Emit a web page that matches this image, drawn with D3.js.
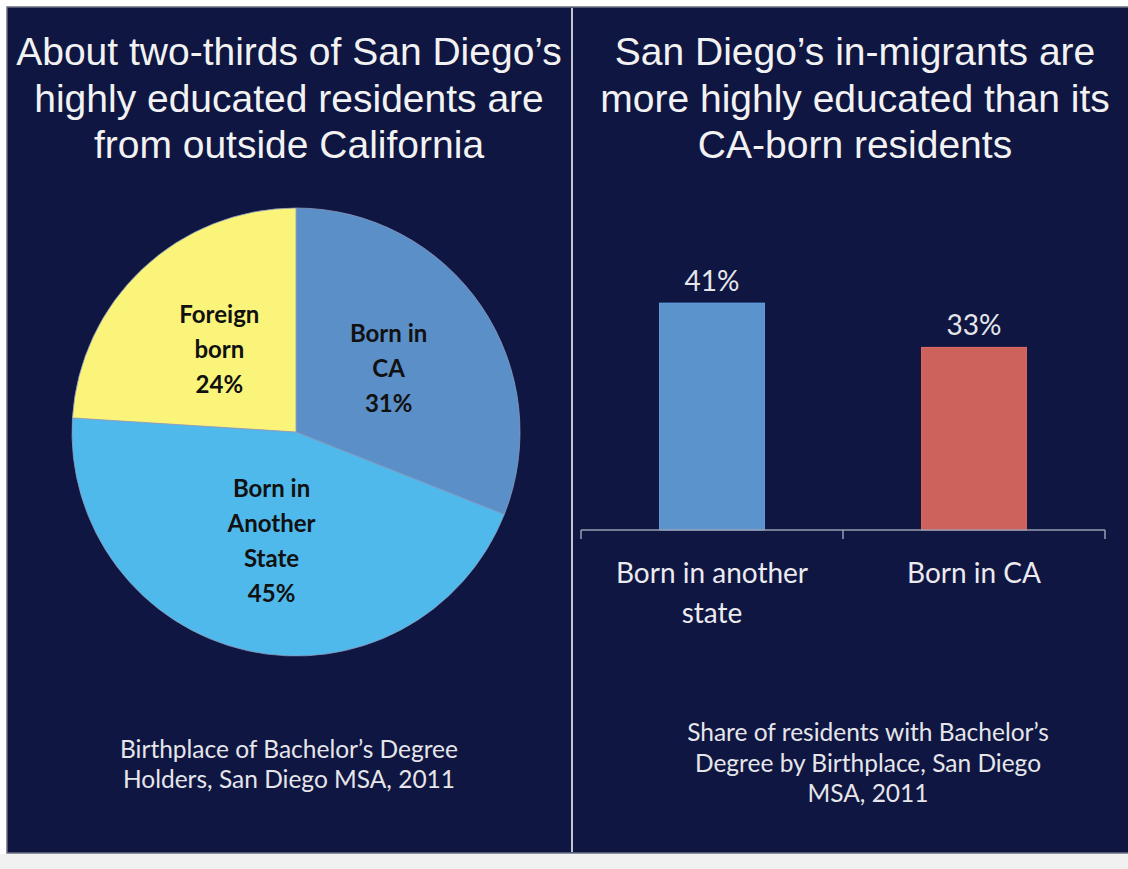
<!DOCTYPE html>
<html>
<head>
<meta charset="utf-8">
<script src="https://cdn.jsdelivr.net/npm/d3@7"></script>
<style>
  body { margin: 0; background: #ffffff; }
  svg { display: block; }
</style>
</head>
<body>
<div id="chart"></div>
<script>
// pie data: birthplace of bachelor's degree holders
const pieCategories = ["Born in CA", "Born in Another State", "Foreign born"];
const pieValues = [31, 45, 24];
const pieLabelLines = [["Born in", "CA", "31%"], ["Born in", "Another", "State", "45%"], ["Foreign", "born", "24%"]];

// bar data: share with bachelor's degree by birthplace
const barCategories = ["Born in another state", "Born in CA"];
const barValues = [0.41, 0.33];
const barTickLines = [["Born in another", "state"], ["Born in CA"]];

const leftTitle = ["About two-thirds of San Diego\u2019s", "highly educated residents are", "from outside California"];
const rightTitle = ["San Diego\u2019s in-migrants are", "more highly educated than its", "CA-born residents"];
const leftCaption = ["Birthplace of Bachelor\u2019s Degree", "Holders, San Diego MSA, 2011"];
const rightCaption = ["Share of residents with Bachelor\u2019s", "Degree by Birthplace, San Diego", "MSA, 2011"];

const width = 1128, height = 869;
const bg = "#0f1642";

const svg = d3.select("#chart").append("svg")
  .attr("width", width)
  .attr("height", height);

// page background + slide panel
svg.append("rect").attr("x", 0).attr("y", 0).attr("width", width).attr("height", height).attr("fill", "#ffffff");
svg.append("rect").attr("x", 0).attr("y", 854).attr("width", width).attr("height", 15).attr("fill", "#f1f1f1");
svg.append("rect")
  .attr("x", 7).attr("y", 7).attr("width", 1130).attr("height", 846)
  .attr("fill", bg)
  .attr("stroke", "#6b6f80")
  .attr("stroke-width", 1.5);

// divider
svg.append("line")
  .attr("x1", 572).attr("x2", 572).attr("y1", 8).attr("y2", 852)
  .attr("stroke", "#c3c6d2").attr("stroke-width", 2);

const titleFont = "'Liberation Sans', Arial, sans-serif";
const bodyFont = "Lato, 'Open Sans', sans-serif";

function multiline(cx, y0, lh, lines, size, fill, family, weight) {
  const t = svg.append("text")
    .attr("text-anchor", "middle")
    .attr("font-family", family)
    .attr("font-size", size)
    .attr("font-weight", weight || "normal")
    .attr("fill", fill);
  lines.forEach((s, i) => {
    t.append("tspan").attr("x", cx).attr("y", y0 + i * lh).text(s);
  });
  return t;
}

// titles
multiline(289, 65, 46.5, leftTitle, 39, "#f2f2f2", titleFont);
multiline(855, 65, 46.5, rightTitle, 39, "#f2f2f2", titleFont);

// ---------- pie ----------
const cx = 296, cy = 432, radius = 224;
const pieColors = d3.scaleOrdinal()
  .domain(pieCategories)
  .range(["#5b8fc8", "#50b9ec", "#faf57a"]);

const pie = d3.pie().sort(null).value(d => d.value);
const arcs = pie(pieCategories.map((c, i) => ({ cat: c, value: pieValues[i], lines: pieLabelLines[i] })));
const arc = d3.arc().innerRadius(0).outerRadius(radius);

const pg = svg.append("g").attr("transform", `translate(${cx},${cy})`);
pg.selectAll("path")
  .data(arcs)
  .join("path")
  .attr("d", arc)
  .attr("fill", d => pieColors(d.data.cat))
  .attr("stroke", "#8a9bc0")
  .attr("stroke-width", 0.8);

// labels sit on a ring at half the radius
const labelArc = d3.arc().innerRadius(radius * 0.5).outerRadius(radius * 0.5);
pg.selectAll("text")
  .data(arcs)
  .join("text")
  .attr("text-anchor", "middle")
  .attr("font-family", bodyFont)
  .attr("font-weight", "bold")
  .attr("font-size", 24)
  .attr("fill", "#111111")
  .each(function (d) {
    const [lx, ly] = labelArc.centroid(d);
    const n = d.data.lines.length;
    const lh = 35;
    d3.select(this).selectAll("tspan")
      .data(d.data.lines)
      .join("tspan")
      .attr("x", lx)
      .attr("y", (s, i) => ly + (i - (n - 1) / 2) * lh + 8)
      .text(s => s);
  });

multiline(289, 758, 29.5, leftCaption, 24.5, "#e6e6ea", bodyFont);

// ---------- bar chart ----------
const x = d3.scaleBand()
  .domain(barCategories)
  .range([581, 1105])
  .paddingInner(0.6)
  .paddingOuter(0.3);

const y = d3.scaleLinear()
  .domain([0, 0.45])
  .range([530, 281]);

const barColors = ["#5b93cc", "#cd615b"];

svg.append("g")
  .selectAll("rect")
  .data(barCategories)
  .join("rect")
  .attr("x", d => x(d))
  .attr("y", (d, i) => y(barValues[i]))
  .attr("width", x.bandwidth())
  .attr("height", (d, i) => y(0) - y(barValues[i]))
  .attr("fill", (d, i) => barColors[i])
  .attr("stroke", (d, i) => d3.color(barColors[i]).brighter(0.3))
  .attr("stroke-width", 1);

svg.append("g")
  .selectAll("text")
  .data(barCategories)
  .join("text")
  .attr("x", d => x(d) + x.bandwidth() / 2)
  .attr("y", (d, i) => y(barValues[i]) - 12)
  .attr("text-anchor", "middle")
  .attr("font-family", bodyFont)
  .attr("font-size", 28)
  .attr("fill", "#e6e6ea")
  .text((d, i) => d3.format(".0%")(barValues[i]));

// axis line with ticks on category boundaries
const axisG = svg.append("g");
axisG.append("line")
  .attr("x1", x.range()[0]).attr("x2", x.range()[1])
  .attr("y1", y(0)).attr("y2", y(0))
  .attr("stroke", "#9a9eb2").attr("stroke-width", 1.5);
const tickXs = d3.range(barCategories.length + 1).map(i => x.range()[0] + i * x.step());
axisG.selectAll("line.tick")
  .data(tickXs)
  .join("line")
  .attr("class", "tick")
  .attr("x1", d => d).attr("x2", d => d)
  .attr("y1", y(0)).attr("y2", y(0) + 9)
  .attr("stroke", "#9a9eb2").attr("stroke-width", 1.5);

barCategories.forEach((c, i) => {
  multiline(x(c) + x.bandwidth() / 2, 583, 40, barTickLines[i], 28, "#ebebef", bodyFont);
});

multiline(868, 741, 30.5, rightCaption, 24.5, "#e6e6ea", bodyFont);
</script>
</body>
</html>
